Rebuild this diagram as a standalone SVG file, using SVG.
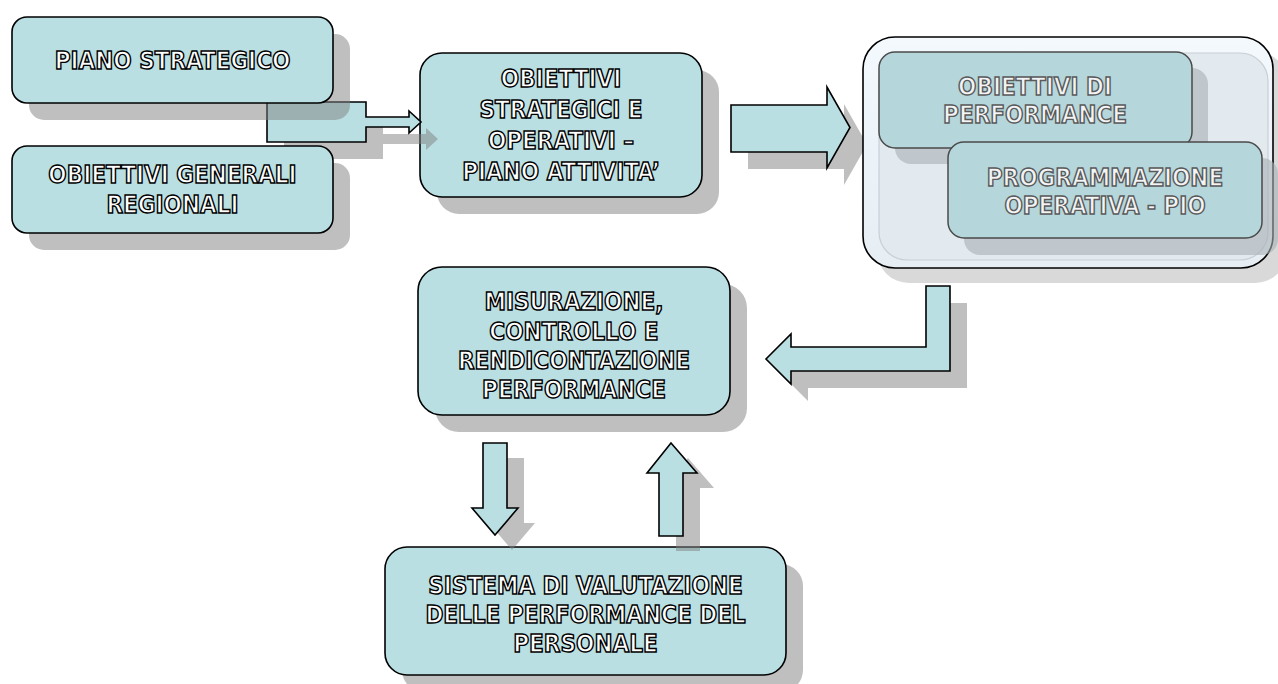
<svg xmlns="http://www.w3.org/2000/svg" width="1278" height="684" viewBox="0 0 1278 684">
<style>
.box{fill:#b9dfe3;stroke:#000;stroke-width:1.6}
.ibox{fill:#b5d6db;stroke:#4a4a4a;stroke-width:1.5}
.shd{fill:#808080;fill-opacity:0.5}
.arr{fill:#b9dfe3;stroke:#000;stroke-width:1.6;stroke-linejoin:miter}
.t{font-family:"DejaVu Sans Condensed","DejaVu Sans",sans-serif;font-stretch:condensed;font-weight:bold;font-size:24px;fill:#fff;stroke:#000;stroke-width:1.4;text-anchor:middle}
.ti{font-family:"DejaVu Sans Condensed","DejaVu Sans",sans-serif;font-stretch:condensed;font-weight:bold;font-size:24px;fill:#f2f4f5;stroke:#5a5a5a;stroke-width:1.4;text-anchor:middle}
</style>
<defs>
<linearGradient id="cg" x1="0" y1="0" x2="0" y2="1">
<stop offset="0" stop-color="#f3f9fd"/>
<stop offset="1" stop-color="#e6eef4"/>
</linearGradient>
</defs>
<rect width="1278" height="684" fill="#fff"/>

<g id="obiettivi-strategici">
<rect class="shd" x="437" y="70" width="282" height="144" rx="22"/>
<rect class="box" x="420" y="53" width="282" height="144" rx="22"/>
<text class="t" x="561" y="87">OBIETTIVI</text>
<text class="t" x="561" y="118">STRATEGICI E</text>
<text class="t" x="561" y="149">OPERATIVI –</text>
<text class="t" x="561" y="180">PIANO ATTIVITA’</text>
</g>

<g id="connectors">
<polygon class="shd" points="284,119 383,119 383,134 426,134 426,128 438,139 426,150 426,144 383,144 383,159 284,159"/>
<polygon class="arr" points="267,102 366,102 366,117 409,117 409,111 421,122 409,133 409,127 366,127 366,142 267,142"/>
<polygon class="shd" points="748,122 844,122 844,104 867,144.5 844,185 844,169 748,169"/>
<polygon class="arr" points="731,105 827,105 827,87 850,127.5 827,168 827,152 731,152"/>
</g>

<g id="piano-strategico">
<rect class="shd" x="29" y="34" width="321" height="86" rx="15"/>
<rect class="box" x="12" y="17" width="321" height="86" rx="15"/>
<text class="t" x="172.5" y="69">PIANO STRATEGICO</text>
</g>

<g id="obiettivi-generali">
<rect class="shd" x="29" y="163" width="321" height="87" rx="15"/>
<rect class="box" x="12" y="146" width="321" height="87" rx="15"/>
<text class="t" x="172.5" y="183">OBIETTIVI GENERALI</text>
<text class="t" x="172.5" y="213">REGIONALI</text>
</g>

<g id="container">
<rect x="877" y="51" width="410" height="232" rx="32" fill="#d9d9d9"/>
<rect x="863" y="37" width="410" height="231" rx="32" fill="url(#cg)" stroke="#000" stroke-width="1.6"/>
<rect x="879" y="53" width="389" height="207" rx="28" fill="#e2e9ef" stroke="#c8cfd5" stroke-width="1.2"/>
</g>

<g id="obiettivi-performance">
<rect x="895" y="68" width="313" height="96" rx="16" fill="#a8b0b6" fill-opacity="0.6"/>
<rect class="ibox" x="879" y="52" width="313" height="96" rx="16"/>
<text class="ti" x="1035" y="95">OBIETTIVI DI</text>
<text class="ti" x="1035" y="123">PERFORMANCE</text>
</g>

<g id="programmazione-operativa">
<rect x="964" y="158" width="314" height="97" rx="16" fill="#a8b0b6" fill-opacity="0.6"/>
<rect class="ibox" x="948" y="142" width="314" height="96" rx="16"/>
<text class="ti" x="1105" y="186">PROGRAMMAZIONE</text>
<text class="ti" x="1105" y="214">OPERATIVA - PIO</text>
</g>

<g id="misurazione">
<rect class="shd" x="435" y="284" width="312" height="148" rx="24"/>
<rect class="box" x="418" y="267" width="312" height="148" rx="24"/>
<text class="t" x="574" y="310">MISURAZIONE,</text>
<text class="t" x="574" y="340">CONTROLLO E</text>
<text class="t" x="574" y="369">RENDICONTAZIONE</text>
<text class="t" x="574" y="398">PERFORMANCE</text>
</g>

<g id="sistema-valutazione">
<rect class="shd" x="402" y="564" width="401" height="128" rx="22"/>
<rect class="box" x="385" y="547" width="401" height="128" rx="22"/>
<text class="t" x="585.5" y="594">SISTEMA DI VALUTAZIONE</text>
<text class="t" x="585.5" y="623">DELLE PERFORMANCE DEL</text>
<text class="t" x="585.5" y="652">PERSONALE</text>
</g>

<g id="connectors-lower">
<polygon class="shd" points="967,303 967,388 808,388 808,401 783,376 808,351 808,364 943,364 943,303"/>
<polygon class="arr" points="950,286 950,371 791,371 791,384 766,359 791,334 791,347 926,347 926,286"/>
<polygon class="shd" points="500,458 524,458 524,523 535,523 512,550 489,523 500,523"/>
<polygon class="arr" points="483,443 507,443 507,508 518,508 495,535 472,508 483,508"/>
<polygon class="shd" points="688,458 714,488 700,488 700,551 676,551 676,488 664,488"/>
<polygon class="arr" points="671,443 697,473 683,473 683,536 659,536 659,473 647,473"/>
</g>
</svg>
